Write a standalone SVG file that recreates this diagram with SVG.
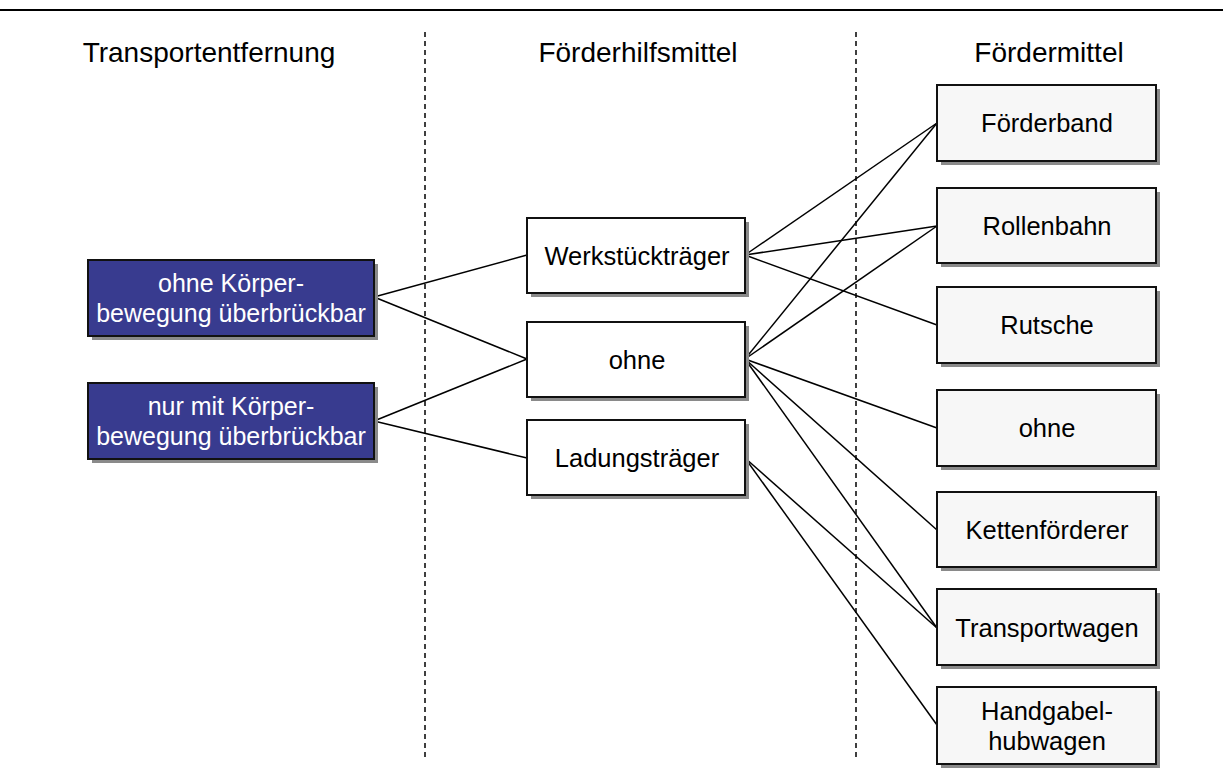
<svg xmlns="http://www.w3.org/2000/svg" width="1223" height="778" viewBox="0 0 1223 778">
  <style>
    .head { font-family: "Liberation Sans", Arial, sans-serif; font-size: 28px; fill: #000; text-anchor: middle; }
    .lbl { font-family: "Liberation Sans", Arial, sans-serif; font-size: 25.5px; fill: #000; text-anchor: middle; }
    .lbl-w { font-family: "Liberation Sans", Arial, sans-serif; font-size: 25px; fill: #fff; text-anchor: middle; }
    .shadow { fill: #8a8a8a; }
    .box-blue { fill: #383b8f; stroke: #111; stroke-width: 2; }
    .box-white { fill: #ffffff; stroke: #111; stroke-width: 2; }
    .box-grey { fill: #f7f7f7; stroke: #111; stroke-width: 2; }
    .conn line { stroke: #000; stroke-width: 1.5; }
    .sep { stroke: #000; stroke-width: 1.5; stroke-dasharray: 5 4; }
  </style>
  <rect width="1223" height="778" fill="#fff"/>

  <!-- top rule -->
  <line x1="0" y1="10" x2="1223" y2="10" stroke="#000" stroke-width="2"/>

  <!-- column separators -->
  <line class="sep" x1="425" y1="32" x2="425" y2="760"/>
  <line class="sep" x1="856" y1="32" x2="856" y2="760"/>

  <!-- column headings -->
  <text class="head" x="209" y="62">Transportentfernung</text>
  <text class="head" x="638" y="62">Förderhilfsmittel</text>
  <text class="head" x="1049" y="62">Fördermittel</text>

  <!-- connectors -->
  <g id="connectors" class="conn">
    <line x1="374" y1="297" x2="527" y2="255"/>
    <line x1="374" y1="297" x2="527" y2="359"/>
    <line x1="374" y1="421" x2="527" y2="359"/>
    <line x1="374" y1="421" x2="527" y2="458"/>

    <line x1="745" y1="255" x2="937" y2="123"/>
    <line x1="745" y1="255" x2="937" y2="226"/>
    <line x1="745" y1="255" x2="937" y2="325"/>

    <line x1="745" y1="359" x2="937" y2="123"/>
    <line x1="745" y1="359" x2="937" y2="226"/>
    <line x1="745" y1="359" x2="937" y2="428"/>
    <line x1="745" y1="359" x2="937" y2="530"/>
    <line x1="745" y1="359" x2="937" y2="628"/>

    <line x1="745" y1="458" x2="937" y2="628"/>
    <line x1="745" y1="458" x2="937" y2="725"/>
  </g>

  <!-- left column -->
  <g id="node-ohne-koerperbewegung">
    <rect class="shadow" x="92" y="264" width="286" height="76"/>
    <rect class="box-blue" x="88" y="260" width="286" height="76"/>
    <text class="lbl-w" x="231" y="292">ohne Körper-</text>
    <text class="lbl-w" x="231" y="322">bewegung überbrückbar</text>
  </g>
  <g id="node-mit-koerperbewegung">
    <rect class="shadow" x="92" y="387" width="286" height="76"/>
    <rect class="box-blue" x="88" y="383" width="286" height="76"/>
    <text class="lbl-w" x="231" y="415">nur mit Körper-</text>
    <text class="lbl-w" x="231" y="445">bewegung überbrückbar</text>
  </g>

  <!-- middle column -->
  <g id="node-werkstuecktraeger">
    <rect class="shadow" x="531" y="222" width="218" height="75"/>
    <rect class="box-white" x="527" y="218" width="218" height="75"/>
    <text class="lbl" x="637" y="265">Werkstückträger</text>
  </g>
  <g id="node-ohne-hilfsmittel">
    <rect class="shadow" x="531" y="326" width="218" height="75"/>
    <rect class="box-white" x="527" y="322" width="218" height="75"/>
    <text class="lbl" x="637" y="369">ohne</text>
  </g>
  <g id="node-ladungstraeger">
    <rect class="shadow" x="531" y="424" width="218" height="75"/>
    <rect class="box-white" x="527" y="420" width="218" height="75"/>
    <text class="lbl" x="637" y="467">Ladungsträger</text>
  </g>

  <!-- right column -->
  <g id="node-foerderband">
    <rect class="shadow" x="941" y="89" width="219" height="76"/>
    <rect class="box-grey" x="937" y="85" width="219" height="76"/>
    <text class="lbl" x="1047" y="132">Förderband</text>
  </g>
  <g id="node-rollenbahn">
    <rect class="shadow" x="941" y="192" width="219" height="75"/>
    <rect class="box-grey" x="937" y="188" width="219" height="75"/>
    <text class="lbl" x="1047" y="235">Rollenbahn</text>
  </g>
  <g id="node-rutsche">
    <rect class="shadow" x="941" y="291" width="219" height="76"/>
    <rect class="box-grey" x="937" y="287" width="219" height="76"/>
    <text class="lbl" x="1047" y="334">Rutsche</text>
  </g>
  <g id="node-ohne-foerdermittel">
    <rect class="shadow" x="941" y="394" width="219" height="76"/>
    <rect class="box-grey" x="937" y="390" width="219" height="76"/>
    <text class="lbl" x="1047" y="437">ohne</text>
  </g>
  <g id="node-kettenfoerderer">
    <rect class="shadow" x="941" y="496" width="219" height="75"/>
    <rect class="box-grey" x="937" y="492" width="219" height="75"/>
    <text class="lbl" x="1047" y="539">Kettenförderer</text>
  </g>
  <g id="node-transportwagen">
    <rect class="shadow" x="941" y="593" width="219" height="76"/>
    <rect class="box-grey" x="937" y="589" width="219" height="76"/>
    <text class="lbl" x="1047" y="637">Transportwagen</text>
  </g>
  <g id="node-handgabelhubwagen">
    <rect class="shadow" x="941" y="691" width="219" height="77"/>
    <rect class="box-grey" x="937" y="687" width="219" height="77"/>
    <text class="lbl" x="1047" y="720">Handgabel-</text>
    <text class="lbl" x="1047" y="750">hubwagen</text>
  </g>
</svg>
